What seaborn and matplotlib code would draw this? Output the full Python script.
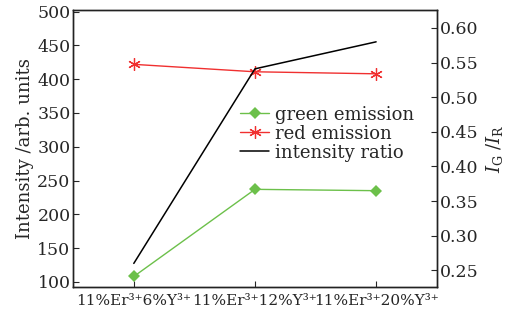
import matplotlib
matplotlib.use("Agg")
import matplotlib.pyplot as plt
import seaborn as sns
import pandas as pd

# data
samples = ["11%Er³⁺6%Y³⁺", "11%Er³⁺12%Y³⁺", "11%Er³⁺20%Y³⁺"]
green = [108, 237, 235]
red = [422, 411, 408]
ratio = [0.260, 0.541, 0.580]

sns.set_theme(style="ticks")
plt.rcParams["font.family"] = ["DejaVu Serif"]
plt.rcParams["mathtext.fontset"] = "dejavuserif"
plt.rcParams["xtick.direction"] = "in"
plt.rcParams["ytick.direction"] = "in"

df = pd.DataFrame({"x": range(len(samples)), "green": green, "red": red, "ratio": ratio})

fig, ax = plt.subplots(figsize=(5.23, 3.21), dpi=100)
fig.subplots_adjust(left=0.14, right=0.835, top=0.97, bottom=0.105)

sns.lineplot(data=df, x="x", y="green", ax=ax, color="#6cc04a", marker="D",
             markersize=6, markeredgewidth=0, linewidth=1, label="green emission")
sns.lineplot(data=df, x="x", y="red", ax=ax, color="#f03030", marker=(6, 2, 0),
             markersize=9, markeredgewidth=0.9, markeredgecolor="#f03030",
             linewidth=1, label="red emission")
ax2 = ax.twinx()
sns.lineplot(data=df, x="x", y="ratio", ax=ax2, color="black", linewidth=1.1,
             label="intensity ratio")

ax.set_xlim(-0.5, 2.5)
ax.set_ylim(92, 503)
ax.set_yticks(range(100, 501, 50))
ax2.set_ylim(0.2255, 0.6265)
ax2.set_yticks([0.25, 0.30, 0.35, 0.40, 0.45, 0.50, 0.55, 0.60])
ax2.set_yticklabels([f"{v:.2f}" for v in ax2.get_yticks()])
ax.set_xticks(range(len(samples)))
ax.set_xticklabels(samples)
ax.set_xlabel("")
ax.set_ylabel("Intensity /arb. units", fontsize=13, labelpad=2)
ax2.set_ylabel(r"$I_{\rm G}\ /I_{\rm R}$", fontsize=13, labelpad=4)

for a in (ax, ax2):
    a.tick_params(labelsize=12.5, length=4, width=0.8, pad=2)
    for s in a.spines.values():
        s.set_linewidth(1.0)
        s.set_color("#222222")
ax.tick_params(axis="x", labelsize=11, pad=5)

h1, l1 = ax.get_legend_handles_labels()
h2, l2 = ax2.get_legend_handles_labels()
ax2.get_legend().remove()
ax.legend(h1 + h2, l1 + l2, loc="upper left", bbox_to_anchor=(0.44, 0.68),
          frameon=False, fontsize=13, handlelength=1.6, handletextpad=0.3,
          labelspacing=0.05, borderaxespad=0)

fig.savefig("out.png", dpi=100)
